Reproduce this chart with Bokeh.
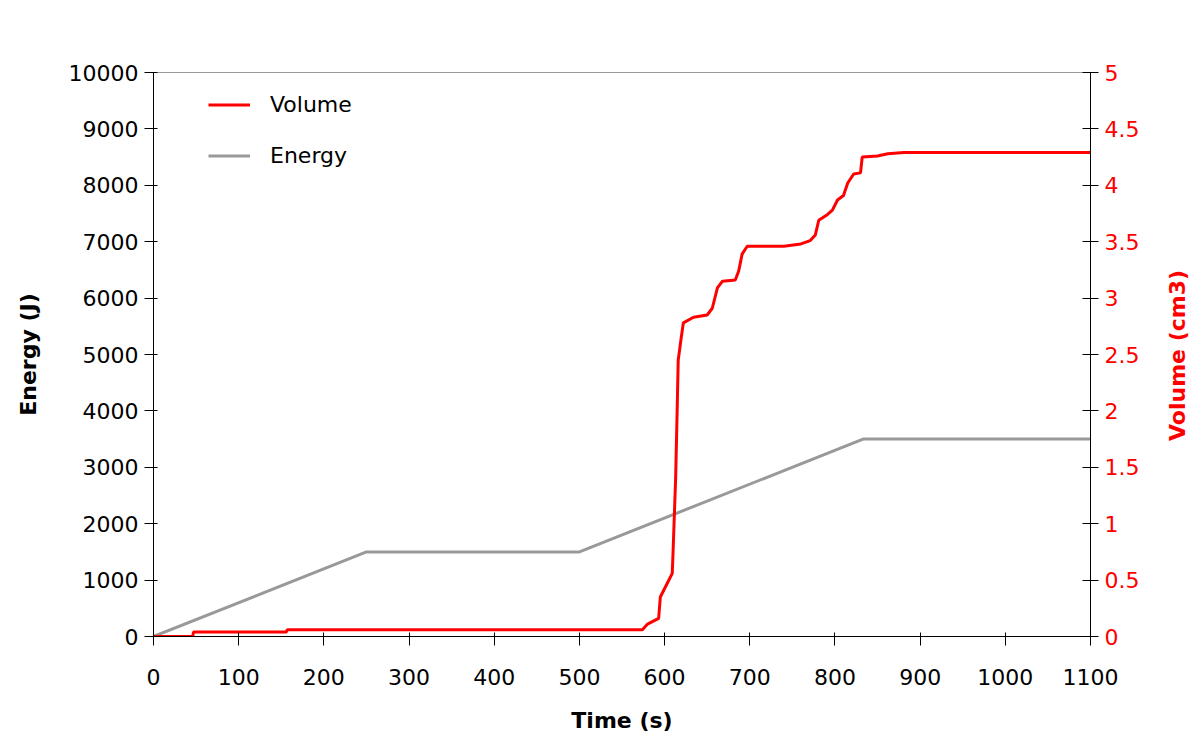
import math
from bokeh.plotting import figure
from bokeh.models import LinearAxis, Range1d, Legend, LegendItem, FixedTicker, Label
from bokeh.embed import file_html
from bokeh.resources import INLINE

# ---- data ----
energy_time = [0, 250, 500, 833, 1100]
energy_values = [0, 1500, 1500, 3500, 3500]

volume_time = [0, 46, 47, 156, 157, 574, 580, 593, 595, 603, 609, 610, 613, 615, 616,
               619, 622, 634, 650, 656, 662, 668, 683, 687, 691, 697, 740, 760, 771,
               777, 781, 791, 797, 803, 810, 815, 822, 830, 832, 850, 862, 881, 1100]
volume_values = [0, 0, 0.04, 0.04, 0.06, 0.06, 0.11, 0.16, 0.35, 0.47, 0.56, 0.76, 1.41,
                 2.09, 2.45, 2.62, 2.78, 2.83, 2.85, 2.91, 3.09, 3.15, 3.16, 3.24, 3.39,
                 3.46, 3.46, 3.48, 3.51, 3.56, 3.69, 3.74, 3.78, 3.87, 3.91, 4.02, 4.10,
                 4.11, 4.25, 4.26, 4.28, 4.29, 4.29]

x_ticks = list(range(0, 1101, 100))
energy_ticks = list(range(0, 10001, 1000))
volume_ticks = [0, 0.5, 1, 1.5, 2, 2.5, 3, 3.5, 4, 4.5, 5]

FONT = "DejaVu Sans"
RED = "#ff0000"
GRAY = "#999999"

p = figure(width=1192, height=740, x_range=Range1d(0, 1100), y_range=Range1d(0, 10000),
           output_backend="svg", toolbar_location=None,
           min_border_left=153, min_border_right=102, min_border_top=72, min_border_bottom=104)
p.extra_y_ranges = {"vol": Range1d(0, 5)}

p.xgrid.visible = False
p.ygrid.visible = False
p.outline_line_color = GRAY
p.outline_line_width = 1
p.background_fill_color = "white"
p.border_fill_color = "white"

r_en = p.line(energy_time, energy_values, line_color=GRAY, line_width=3)
r_vol = p.line(volume_time, volume_values, line_color=RED, line_width=3, y_range_name="vol")

right = LinearAxis(y_range_name="vol")
p.add_layout(right, "right")

for ax in [p.xaxis[0], p.yaxis[0], right]:
    ax.axis_line_color = "black"
    ax.major_tick_line_color = "black"
    ax.minor_tick_line_color = None
    ax.major_tick_in = 4
    ax.major_tick_out = 9
    ax.major_label_text_font = FONT
    ax.major_label_text_font_size = "22px"
    ax.major_label_text_color = "black"
    ax.axis_label_text_font = FONT
    ax.axis_label_text_font_size = "22px"
    ax.axis_label_text_font_style = "bold"
    ax.axis_label_text_color = "black"

p.xaxis[0].ticker = FixedTicker(ticks=x_ticks)
p.xaxis[0].axis_label = "Time (s)"
p.xaxis[0].major_label_standoff = 23
p.xaxis[0].axis_label_standoff = 20

p.yaxis[0].ticker = FixedTicker(ticks=energy_ticks)
p.yaxis[0].axis_label = "Energy (J)"
p.yaxis[0].major_label_standoff = 6
p.yaxis[0].axis_label_standoff = 25

right.ticker = FixedTicker(ticks=volume_ticks)
right.major_tick_in = 8
right.major_tick_out = 8
right.major_label_text_color = RED
right.major_label_standoff = 6

# right axis title, reading bottom-to-top like the reference
vol_title = Label(x=35, y=281, x_units="screen", y_units="screen", text="Volume (cm3)",
                  angle=math.pi / 2, text_align="center", text_baseline="middle",
                  text_font=FONT, text_font_size="22px", text_font_style="bold",
                  text_color=RED)
p.add_layout(vol_title, "right")

legend = Legend(items=[LegendItem(label="Volume", renderers=[r_vol]),
                       LegendItem(label="Energy", renderers=[r_en])],
                location=(55, 468))
legend.padding = 0
legend.margin = 0
legend.spacing = 26
legend.glyph_width = 42
legend.glyph_height = 25
legend.label_height = 25
legend.label_standoff = 20
legend.label_text_font = FONT
legend.label_text_font_size = "22px"
legend.label_text_color = "black"
legend.border_line_alpha = 0
legend.background_fill_alpha = 0
p.add_layout(legend)

open("out.html", "w").write(file_html(p, INLINE))
